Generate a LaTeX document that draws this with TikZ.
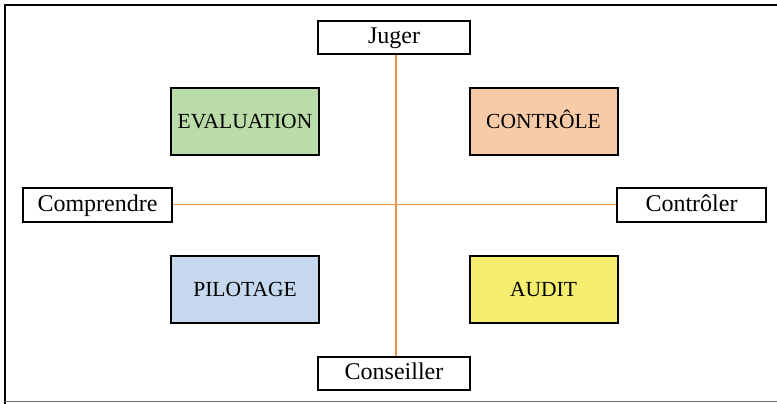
\documentclass[tikz,border=0pt]{standalone}
\usepackage{fontspec}
\setmainfont{Liberation Serif}
\definecolor{lineorange}{HTML}{F0914A}
\definecolor{evalgreen}{HTML}{BADCA8}
\definecolor{ctrlpeach}{HTML}{F8CBA8}
\definecolor{pilotblue}{HTML}{C5D8EE}
\definecolor{audityellow}{HTML}{F5EE6E}
\definecolor{framegray}{HTML}{707070}
\begin{document}
\begin{tikzpicture}[x=1pt,y=-1pt,
  axisbox/.style={draw=black,line width=2pt,fill=white,inner sep=0pt,
    text height=16pt,text depth=3pt,
    minimum width=150pt,minimum height=33pt,font=\fontsize{24}{26}\selectfont},
  quadbox/.style={draw=black,line width=2pt,inner sep=0pt,
    text height=15pt,text depth=1pt,
    minimum width=148pt,minimum height=67pt,font=\fontsize{21.5}{24}\selectfont},
  axisline/.style={draw=lineorange,line width=1.3pt}]
\useasboundingbox (0,0) rectangle (777,404);
% frame
\draw[black,line width=2pt] (5,404) -- (5,5) -- (777,5);
\draw[framegray,line width=1.5pt] (5,401.5) -- (777,401.5);
% quadrant boxes
\node[quadbox,fill=evalgreen] (eval) at (245,121.5) {EVALUATION};
\node[quadbox,fill=ctrlpeach] (ctrl) at (543.5,121.5) {CONTRÔLE};
\node[quadbox,fill=pilotblue] (pilot) at (245,289) {PILOTAGE};
\node[quadbox,fill=audityellow] (audit) at (543.5,289) {AUDIT};
% axis boxes
\node[axisbox,minimum width=152pt] (juger) at (394,37.5) {Juger};
\node[axisbox,minimum width=152pt] (cons) at (394,373) {Conseiller};
\node[axisbox,minimum width=149pt,minimum height=34pt] (comp) at (97.5,205) {Comprendre};
\node[axisbox,minimum width=149pt,minimum height=34pt] (contr) at (691.5,205) {Contrôler};
% axes
\draw[axisline] ([xshift=2pt]juger.south) -- ([xshift=2pt]cons.north);
\draw[axisline] ([yshift=0.7pt]comp.east) -- ([yshift=0.7pt]contr.west);
\end{tikzpicture}
\end{document}
